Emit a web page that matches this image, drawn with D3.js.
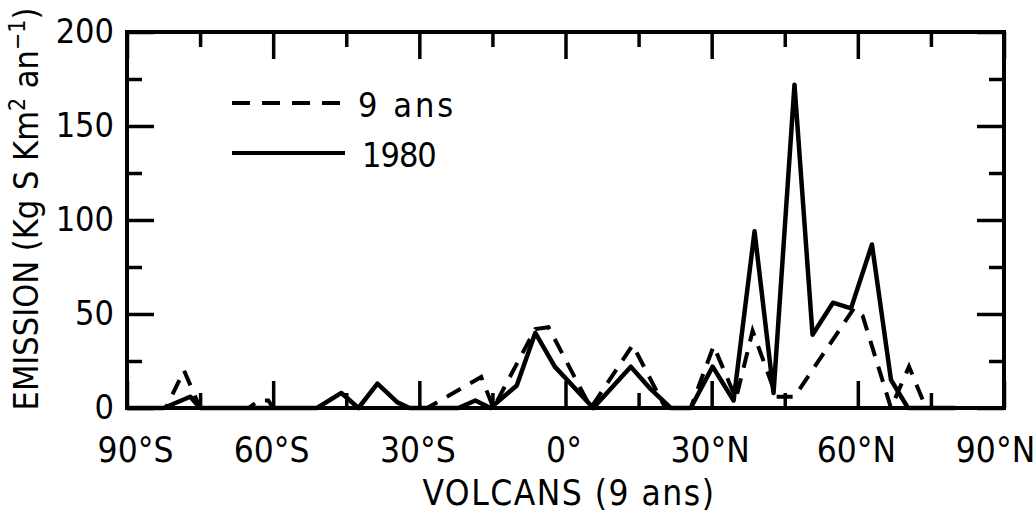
<!DOCTYPE html>
<html lang="fr">
<head>
<meta charset="UTF-8">
<title>Emission volcans</title>
<script src="https://cdn.jsdelivr.net/npm/d3@7"></script>
<style>
    body { margin: 0; background: #fff; }
    svg text {
        font-family: "DejaVu Sans Condensed", "Liberation Sans Narrow", "DejaVu Sans", sans-serif;
        fill: #000;
    }
    .axis path { display: none; }
    .axis line { stroke: #000; stroke-width: 3.5; }
</style>
</head>
<body>
<svg id="chart" width="1036" height="514"></svg>
<script>
    // latitudes (deg, S negative) and values
    const lat1980 = [-90, -82.5, -77, -75, -51, -46, -42.5, -38.6, -34.5, -32, -22, -18.5, -15.4, -10, -6.2, -2.2, 5.7, 13.4, 17.5, 21.6, 25.7, 30.2, 34.5, 38.8, 42.7, 47, 50.7, 54.9, 58.6, 62.9, 66.8, 70.3, 80];
    const val1980 = [0, 0, 6, 0, 0, 8, 0, 13, 3, 0, 0, 4, 0, 12, 40, 22, 0, 22, 10, 0, 0, 22, 4, 94, 8, 172, 39, 56, 53, 87, 15, 0, 0];

    const lat9ans = [-90, -82, -78.3, -75, -65, -63, -61, -60, -28.4, -17.3, -14.8, -6.2, -3.5, 5.2, 13.8, 20.5, 25.7, 30.4, 35, 38.4, 43.3, 47, 59.2, 61, 66.8, 70.5, 74, 80];
    const val9ans = [0, 0, 20, 0, 0, 4, 4, 0, 0, 16.5, 0, 42, 43, 0, 33.5, 0, 0, 33, 5, 41, 6, 6, 53, 49, 0, 22, 0, 0];

    const xMajor = [-90, -60, -30, 0, 30, 60, 90];
    const xMinor = [-75, -45, -15, 15, 45, 75];
    const xTickLabels = ['90°S', '60°S', '30°S', '0°', '30°N', '60°N', '90°N'];
    const yMajor = [0, 50, 100, 150, 200];
    const yMinor = [25, 75, 125, 175];
    const legendLabels = ['9 ans', '1980'];

    let x0 = 127, x1 = 1004, y0 = 32, y1 = 408;

    let x = d3.scaleLinear().domain([-90, 90]).range([x0, x1]);
    let y = d3.scaleLinear().domain([0, 200]).range([y1, y0]);

    let svg = d3.select('#chart');

    // frame
    svg.append('rect')
        .attr('x', x0).attr('y', y0)
        .attr('width', x1 - x0).attr('height', y1 - y0)
        .attr('fill', 'none').attr('stroke', '#000').attr('stroke-width', 4);

    let big = 27, small = 15;

    let bx = svg.append('g').attr('class', 'axis').attr('transform', 'translate(0,' + y1 + ')')
        .call(d3.axisBottom(x).tickValues(xMajor).tickSize(-big).tickSizeOuter(0).tickPadding(29)
            .tickFormat((d, i) => xTickLabels[i]));
    bx.selectAll('text')
        .style('font-size', '35px')
        .attr('dx', d => d === -90 ? 8 : d === 90 ? -9 : -2);
    svg.append('g').attr('class', 'axis').attr('transform', 'translate(0,' + y1 + ')')
        .call(d3.axisBottom(x).tickValues(xMinor).tickSize(-small).tickSizeOuter(0).tickFormat(''));
    svg.append('g').attr('class', 'axis').attr('transform', 'translate(0,' + y0 + ')')
        .call(d3.axisTop(x).tickValues(xMajor).tickSize(-big).tickSizeOuter(0).tickFormat(''));
    svg.append('g').attr('class', 'axis').attr('transform', 'translate(0,' + y0 + ')')
        .call(d3.axisTop(x).tickValues(xMinor).tickSize(-small).tickSizeOuter(0).tickFormat(''));

    let ly = svg.append('g').attr('class', 'axis').attr('transform', 'translate(' + x0 + ',0)')
        .call(d3.axisLeft(y).tickValues(yMajor).tickSize(-big).tickSizeOuter(0).tickPadding(13));
    ly.selectAll('text').style('font-size', '34px');
    svg.append('g').attr('class', 'axis').attr('transform', 'translate(' + x0 + ',0)')
        .call(d3.axisLeft(y).tickValues(yMinor).tickSize(-small).tickSizeOuter(0).tickFormat(''));
    svg.append('g').attr('class', 'axis').attr('transform', 'translate(' + x1 + ',0)')
        .call(d3.axisRight(y).tickValues(yMajor).tickSize(-big).tickSizeOuter(0).tickFormat(''));
    svg.append('g').attr('class', 'axis').attr('transform', 'translate(' + x1 + ',0)')
        .call(d3.axisRight(y).tickValues(yMinor).tickSize(-small).tickSizeOuter(0).tickFormat(''));

    // series
    let line = d3.line().x(d => x(d[0])).y(d => y(d[1]));

    svg.append('path')
        .datum(d3.zip(lat9ans, val9ans))
        .attr('d', line)
        .attr('fill', 'none').attr('stroke', '#000').attr('stroke-width', 4)
        .attr('stroke-dasharray', '16 11');

    svg.append('path')
        .datum(d3.zip(lat1980, val1980))
        .attr('d', line)
        .attr('fill', 'none').attr('stroke', '#000').attr('stroke-width', 4.5)
        .attr('stroke-linejoin', 'round');

    // legend
    let legend = svg.append('g');
    legendLabels.forEach((t, i) => {
        let ly0 = 103 + i * 50;
        legend.append('line')
            .attr('x1', 232).attr('x2', 345).attr('y1', ly0).attr('y2', ly0)
            .attr('stroke', '#000').attr('stroke-width', 4)
            .attr('stroke-dasharray', i === 0 ? '18 12' : null);
        legend.append('text')
            .attr('x', i === 0 ? 358 : 362).attr('y', ly0 + 14)
            .style('font-size', '34px')
            .style('letter-spacing', i === 0 ? '3px' : '-1px')
            .text(t);
    });

    // axis titles
    svg.append('text')
        .attr('x', 569).attr('y', 505)
        .attr('text-anchor', 'middle')
        .style('font-size', '35px')
        .style('letter-spacing', '1.5px')
        .text('VOLCANS (9 ans)');

    let yt = svg.append('text')
        .attr('transform', 'translate(38,209) rotate(-90)')
        .attr('text-anchor', 'middle')
        .style('font-size', '34px');
    yt.append('tspan').text('EMISSION (Kg S Km');
    yt.append('tspan').attr('dy', -13).style('font-size', '23px').text('2');
    yt.append('tspan').attr('dy', 13).text(' an');
    yt.append('tspan').attr('dy', -13).style('font-size', '23px').text('−1');
    yt.append('tspan').attr('dy', 13).text(')');
</script>
</body>
</html>
